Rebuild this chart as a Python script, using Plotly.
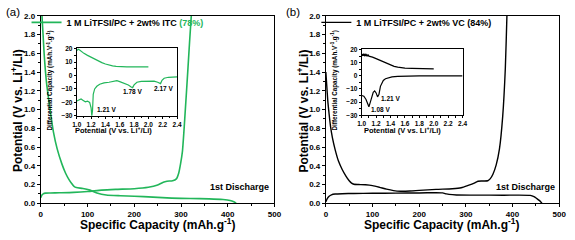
import plotly.graph_objects as go

# ---------------- data ----------------
# Panel (a): 1 M LiTFSI/PC + 2wt% ITC
a_dis_cap = [1.5, 3, 5, 7, 10, 13, 17, 22, 27, 35, 45, 53, 60, 66, 71, 76, 90, 105, 120, 140, 170, 200, 240, 280, 320, 360, 390, 405, 413, 418]
a_dis_v = [2.1, 1.95, 1.78, 1.6, 1.4, 1.25, 1.1, 0.92, 0.76, 0.58, 0.42, 0.32, 0.255, 0.21, 0.18, 0.167, 0.158, 0.14, 0.11, 0.088, 0.08, 0.075, 0.065, 0.055, 0.05, 0.047, 0.04, 0.03, 0.015, 0.0]
a_chg_cap = [0, 2, 5, 10, 20, 40, 70, 100, 130, 160, 200, 230, 250, 262, 270, 282, 290, 295, 299, 303, 308, 315, 322, 326]
a_chg_v = [0.06, 0.085, 0.1, 0.108, 0.11, 0.112, 0.116, 0.125, 0.14, 0.148, 0.155, 0.17, 0.195, 0.225, 0.235, 0.24, 0.26, 0.32, 0.42, 0.55, 0.9, 1.45, 2.0, 2.2]

# Panel (b): 1 M LiTFSI/PC + 2wt% VC
b_c1_cap = [0, 2, 4, 7, 10, 14, 20, 27, 35, 43, 50, 55, 60, 70, 85, 100, 115, 130, 145, 160, 180, 200, 236, 271, 290, 305, 318, 326, 335, 347, 352, 358, 365, 372, 379, 384.6, 388, 390]
b_c1_v = [1.4, 1.25, 1.1, 0.95, 0.82, 0.7, 0.57, 0.45, 0.36, 0.29, 0.24, 0.215, 0.203, 0.2, 0.197, 0.188, 0.17, 0.15, 0.135, 0.128, 0.13, 0.137, 0.148, 0.155, 0.165, 0.19, 0.215, 0.235, 0.238, 0.24, 0.26, 0.31, 0.41, 0.58, 0.93, 1.44, 2.0, 2.3]
b_c2_cap = [0, 3, 7, 12, 20, 35, 60, 100, 150, 200, 236, 250, 258, 264, 280, 320, 380, 438, 446, 452, 458, 463]
b_c2_v = [0.015, 0.05, 0.075, 0.09, 0.098, 0.102, 0.104, 0.106, 0.108, 0.11, 0.112, 0.11, 0.1, 0.094, 0.088, 0.087, 0.086, 0.084, 0.07, 0.05, 0.028, 0.0]

# Insets: differential capacity (mAh.V-1.g-1) vs potential (V)
ia_up_x = [1.0, 1.02, 1.04, 1.06, 1.1, 1.15, 1.2, 1.25, 1.3, 1.35, 1.4, 1.45, 1.5, 1.55, 1.6, 1.7, 1.8, 1.9, 2.0]
ia_up_y = [18.5, 19.5, 19, 18, 16.5, 15, 13.5, 12, 10.8, 9.6, 8.6, 7.8, 7.2, 6.8, 6.6, 6.5, 6.5, 6.6, 6.5]
ia_lo_x = [1.0, 1.03, 1.06, 1.09, 1.12, 1.15, 1.18, 1.2, 1.21, 1.22, 1.23, 1.25, 1.28, 1.32, 1.38, 1.45, 1.52, 1.56, 1.6, 1.66, 1.72, 1.76, 1.78, 1.8, 1.84, 1.9, 2.0, 2.08, 2.13, 2.16, 2.17, 2.19, 2.22, 2.28, 2.35, 2.4]
ia_lo_y = [-19, -18, -17.5, -18.5, -19.5, -19, -20, -24, -30, -26, -14, -10, -8, -6.5, -5.5, -5, -4.3, -3.8, -4.5, -5.5, -7, -8.5, -9, -7, -5, -4.3, -4, -4.2, -5, -6, -6, -3.5, -2, -1.3, -1, -1]
ib_up_x = [1.0, 1.01, 1.02, 1.03, 1.04, 1.05, 1.06, 1.07, 1.08, 1.09, 1.1, 1.12, 1.15, 1.2, 1.25, 1.3, 1.35, 1.4, 1.45, 1.5, 1.55, 1.6, 1.7, 1.8, 1.9, 2.0]
ib_up_y = [15, 16.5, 15.2, 16.8, 15.5, 16.2, 15, 16, 15.3, 15.8, 15, 14.8, 14.2, 13, 11.8, 10.5, 9.2, 8, 7.2, 6.6, 6.1, 5.8, 5.6, 5.5, 5.5, 5.3]
ib_lo_x = [1.0, 1.03, 1.06, 1.08, 1.1, 1.12, 1.14, 1.16, 1.18, 1.2, 1.22, 1.24, 1.26, 1.28, 1.3, 1.33, 1.37, 1.42, 1.5, 1.6, 1.8, 2.0, 2.4]
ib_lo_y = [-15, -15.5, -18, -21.5, -23.5, -20, -15, -12.5, -11.5, -13, -16, -14, -8, -5, -3.5, -2.2, -1.4, -0.8, -0.4, -0.2, 0, 0, 0]

main_xticks = [0, 100, 200, 300, 400, 500]
inset_xticks = [1.0, 1.2, 1.4, 1.6, 1.8, 2.0, 2.2, 2.4]
inset_yticks = [-30, -20, -10, 0, 10, 20]

GREEN = '#22b65a'
BLACK = '#000000'
FONT = 'Liberation Sans, Arial, sans-serif'
W, H = 575, 240

name_a = "1 M LiTFSI/PC + 2wt% ITC <span style='color:" + GREEN + "'>(78%)</span>"
name_b = "1 M LiTFSI/PC + 2wt% VC (84%)"


def px(xp):
    return xp / W


def py(yp):
    return 1 - yp / H


fig = go.Figure()

spl = dict(shape='spline', smoothing=0.6)
fig.add_trace(go.Scatter(x=a_dis_cap, y=a_dis_v, mode='lines', line=dict(color=GREEN, width=1.6, **spl),
                         name=name_a, xaxis='x', yaxis='y', legend='legend'))
fig.add_trace(go.Scatter(x=a_chg_cap, y=a_chg_v, mode='lines', line=dict(color=GREEN, width=1.6, **spl),
                         showlegend=False, xaxis='x', yaxis='y'))
fig.add_trace(go.Scatter(x=b_c1_cap, y=b_c1_v, mode='lines', line=dict(color=BLACK, width=1.4, **spl),
                         name=name_b, xaxis='x2', yaxis='y2', legend='legend2'))
fig.add_trace(go.Scatter(x=b_c2_cap, y=b_c2_v, mode='lines', line=dict(color=BLACK, width=1.4, **spl),
                         showlegend=False, xaxis='x2', yaxis='y2'))

fig.add_trace(go.Scatter(x=ia_up_x, y=ia_up_y, mode='lines', line=dict(color=GREEN, width=1.2),
                         showlegend=False, xaxis='x3', yaxis='y3'))
fig.add_trace(go.Scatter(x=ia_lo_x, y=ia_lo_y, mode='lines', line=dict(color=GREEN, width=1.2),
                         showlegend=False, xaxis='x3', yaxis='y3'))
fig.add_trace(go.Scatter(x=ib_up_x, y=ib_up_y, mode='lines', line=dict(color=BLACK, width=1.3),
                         showlegend=False, xaxis='x4', yaxis='y4'))
fig.add_trace(go.Scatter(x=ib_lo_x, y=ib_lo_y, mode='lines', line=dict(color=BLACK, width=1.2),
                         showlegend=False, xaxis='x4', yaxis='y4'))

tickfont = dict(family=FONT, size=8, color='black', weight='bold')
itickfont = dict(family=FONT, size=6.5, color='black', weight='bold')

main_common = dict(showline=True, linecolor='black', linewidth=1, mirror=True, showgrid=False,
                   zeroline=False, ticks='outside', ticklen=3, tickwidth=1, tickcolor='black',
                   tickfont=tickfont)
main_x = dict(main_common, range=[0, 500], tickvals=main_xticks,
              minor=dict(dtick=50, ticks='outside', ticklen=2, tickcolor='black'))
main_y = dict(main_common, range=[0, 2.0], dtick=0.2, tick0=0, tickformat='.1f',
              minor=dict(dtick=0.1, ticks='outside', ticklen=2, tickcolor='black'))

ydom = [py(207), py(12.3)]

inset_common = dict(showline=True, linecolor='black', linewidth=1, mirror=True, showgrid=False,
                    zeroline=False, ticks='outside', ticklen=2, tickwidth=1, tickcolor='black',
                    tickfont=itickfont)
inset_x = dict(inset_common, range=[1.0, 2.4], tickvals=inset_xticks, tickformat='.1f',
               minor=dict(dtick=0.1, ticks='outside', ticklen=1.5, tickcolor='black'))
inset_y = dict(inset_common, range=[-30, 20.5], tickvals=inset_yticks,
               minor=dict(dtick=5, ticks='outside', ticklen=1.5, tickcolor='black'))

fig.update_layout(
    width=W, height=H, margin=dict(l=0, r=0, t=0, b=0),
    paper_bgcolor='white', plot_bgcolor='white',
    font=dict(family=FONT, color='black'),
    xaxis=dict(main_x, domain=[px(36.6), px(275.2)], anchor='y'),
    yaxis=dict(main_y, domain=ydom, anchor='x'),
    xaxis2=dict(main_x, domain=[px(327.7), px(566)], anchor='y2'),
    yaxis2=dict(main_y, domain=ydom, anchor='x2'),
    xaxis3=dict(inset_x, domain=[px(73.3), px(175.7)], anchor='y3'),
    yaxis3=dict(inset_y, domain=[py(116.2), py(45.7)], anchor='x3'),
    xaxis4=dict(inset_x, domain=[px(364.3), px(467.3)], anchor='y4'),
    yaxis4=dict(inset_y, domain=[py(115.6), py(46.6)], anchor='x4'),
    legend=dict(x=px(22), y=py(4), xanchor='left', yanchor='top', bgcolor='rgba(0,0,0,0)',
                font=dict(family=FONT, size=9, weight='bold', color='black'), itemwidth=30),
    legend2=dict(x=px(318), y=py(4), xanchor='left', yanchor='top', bgcolor='rgba(0,0,0,0)',
                 font=dict(family=FONT, size=9, weight='bold', color='black'), itemwidth=30),
    showlegend=True,
)

ann = []


def bold(s):
    return dict(family=FONT, size=s, color='black', weight='bold')


def pa(text, xp, yp, font, angle=0):
    return dict(text=text, x=px(xp), y=py(yp), xref='paper', yref='paper', showarrow=False,
                xanchor='center', yanchor='middle', textangle=angle, font=font)


# panel letters
ann.append(pa('(a)', 8, 8, dict(family=FONT, size=11.5, color='black')))
ann.append(pa('(b)', 294, 8, dict(family=FONT, size=11.5, color='black')))
# main axis titles
for xc in (12.5, 304):
    ann.append(pa('Potential (V vs. Li<sup>+</sup>/Li)', xc, 111, bold(12), -90))
for xc in (156, 446.5):
    ann.append(pa('Specific Capacity (mAh.g<sup>-1</sup>)', xc, 229, bold(12)))
# 1st Discharge labels
for xc in (240, 532):
    ann.append(pa('1st Discharge', xc, 190, bold(9)))
# inset axis titles
for xc in (111, 406):
    ann.append(pa('Potential (V vs. Li<sup>+</sup>/Li)', xc, 130.7, bold(7.5)))
for xc in (46, 337):
    ann.append(pa('Differential Capacity (mAh.V<sup>-1</sup>.g<sup>-1</sup>)', xc, 79.5, bold(6.3), -90))
# peak labels
for t, x, y in (('1.21 V', 1.41, -25.3), ('1.78 V', 1.78, -12.1), ('2.17 V', 2.21, -9.9)):
    ann.append(dict(text=t, x=x, y=y, xref='x3', yref='y3', showarrow=False, xanchor='center',
                    yanchor='middle', font=bold(6.5)))
for t, x, y in (('1.21 V', 1.40, -17.5), ('1.08 V', 1.26, -25.3)):
    ann.append(dict(text=t, x=x, y=y, xref='x4', yref='y4', showarrow=False, xanchor='center',
                    yanchor='middle', font=bold(6.5)))

fig.update_layout(annotations=ann)
fig.write_html('out.html')
